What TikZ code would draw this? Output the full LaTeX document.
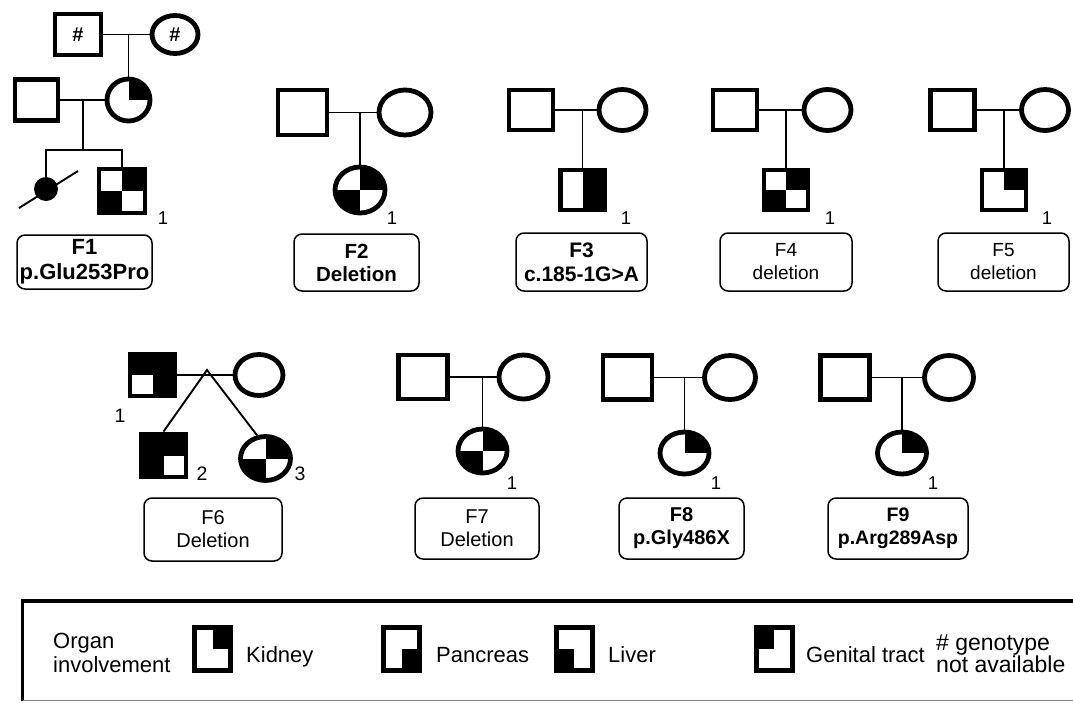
\documentclass[tikz,border=0pt]{standalone}
\usepackage{fontspec}
\setmainfont{Liberation Sans}
\usetikzlibrary{shapes.geometric}

\begin{document}
\begin{tikzpicture}
[
	x=1pt,y=-1pt,
	male/.style={rectangle,draw,line width=4.8,inner sep=0,minimum width=44,minimum height=40},
	female/.style={ellipse,draw,line width=4.8,inner sep=0,minimum width=47,minimum height=41},
	big/.style={minimum width=49,minimum height=44},
	dead/.style={circle,fill,inner sep=0,minimum size=24},
	organ/.style={path picture={\foreach \qd in {#1} {\fill (path picture bounding box.center) rectangle (path picture bounding box.\qd);}}},
	key/.style={rectangle,draw,line width=5,inner sep=0,minimum width=36,minimum height=43},
	ln/.style={line width=1.9},
	num/.style={inner sep=0,font=\fontsize{18.5}{18}\selectfont},
	fam/.style={rectangle,rounded corners=8,draw,line width=1.5,align=center,inner sep=0,minimum width=131,minimum height=58,font=\fontsize{19}{23}\selectfont},
	lgtxt/.style={inner sep=0,align=left,font=\fontsize{22}{24}\selectfont}
]

\useasboundingbox (0,0) rectangle (1073,702);

% F1
\node[male,minimum width=46,minimum height=41] (gf1) at (78,34.5) {\fontsize{20}{20}\selectfont\bfseries\#};
\node[female,minimum width=46,minimum height=38] (gm1) at (175,34.5) {\fontsize{20}{20}\selectfont\bfseries\#};
\node[male,minimum width=43,minimum height=41] (fa1) at (36.5,100) {};
\node[female,minimum width=43,minimum height=42,organ={north east}] (mo1) at (128.5,100) {};
\node[dead] (da1) at (46,189) {};
\node[male,minimum width=46,minimum height=44,organ={north east,south west}] (so1) at (122,191) {};
\coordinate (m1) at (83,100);
\coordinate (s1) at (83,150);
\node[num] (n1) at (163,218) {1};

\draw[ln]	(gf1.east)	--	(gm1.west);
\draw[ln]	(mo1.north)	--	(mo1.north |- gf1.east);
\draw[ln]	(fa1.east)	--	(mo1.west);
\draw[ln]	(m1)		--	(s1);
\draw[ln]	(da1.north)	|-	(s1) -| (so1.north);
\draw[ln]	([shift={(-27,19)}]da1.center) -- ([shift={(32,-18)}]da1.center);

% F2 - F5
\node[male,minimum width=49,minimum height=45] (fa2) at (302.5,112.5) {};
\node[female,minimum width=52,minimum height=45] (mo2) at (405,112.5) {};
\node[female,minimum width=50,minimum height=46,organ={north east,south west}] (ch2) at (360,190) {};
\node[num] (n2) at (392,218) {1};

\node[male] (fa3) at (531,110) {};
\node[female] (mo3) at (622.5,110) {};
\node[male,organ={north east,south east}] (ch3) at (582.5,190) {};
\node[num] (n3) at (626,218) {1};

\node[male] (fa4) at (735,110) {};
\node[female] (mo4) at (827.5,110) {};
\node[male,organ={north east,south west}] (ch4) at (786,190) {};
\node[num] (n4) at (830,218) {1};

\node[male] (fa5) at (952.5,110) {};
\node[female] (mo5) at (1045,110) {};
\node[male,organ={north east}] (ch5) at (1004,190) {};
\node[num] (n5) at (1047,218) {1};

\draw[ln]	(fa2.east)	--	(mo2.west);
\draw[ln]	(ch2.north)	--	(ch2.north |- fa2.east);
\draw[ln]	(fa3.east)	--	(mo3.west);
\draw[ln]	(ch3.north)	--	(ch3.north |- fa3.east);
\draw[ln]	(fa4.east)	--	(mo4.west);
\draw[ln]	(ch4.north)	--	(ch4.north |- fa4.east);
\draw[ln]	(fa5.east)	--	(mo5.west);
\draw[ln]	(ch5.north)	--	(ch5.north |- fa5.east);

\node[fam,minimum width=135,minimum height=54,font=\bfseries\fontsize{22}{25}\selectfont] (b1) at (84.5,262) {F1\\p.Glu253Pro};
\node[fam,minimum width=125,minimum height=57,font=\bfseries\fontsize{20.5}{23}\selectfont] (b2) at (356.5,262.5) {F2\\Deletion};
\node[fam,font=\bfseries\fontsize{21}{24}\selectfont] (b3) at (581.5,262) {F3\\c.185-1G>A};
\node[fam,minimum width=132] (b4) at (786,262) {F4\\deletion};
\node[fam] (b5) at (1003.5,262) {F5\\deletion};

% F6 - F9
\node[male,minimum width=45,minimum height=42,organ={north east,south east,north west}] (fa6) at (152.5,375) {};
\node[female,minimum width=48,minimum height=41] (mo6) at (259,375) {};
\node[male,minimum width=45,minimum height=43,organ={north east,south west,north west}] (so6) at (163.5,455.5) {};
\node[female,big,minimum width=50,organ={north east,south west}] (da6) at (265.5,458.5) {};
\coordinate (tw6) at (207,370);
\node[num,font=\fontsize{19.5}{19}\selectfont] (n6a) at (120,416) {1};
\node[num,font=\fontsize{19.5}{19}\selectfont] (n6b) at (202,474) {2};
\node[num,font=\fontsize{19.5}{19}\selectfont] (n6c) at (300,474) {3};

\node[male,big] (fa7) at (423,377) {};
\node[female,big] (mo7) at (523.5,377) {};
\node[female,big,organ={north east,south west}] (da7) at (482.5,451) {};
\node[num] (n7) at (512,483) {1};

\node[male,big] (fa8) at (627.5,377.5) {};
\node[female,big,minimum width=51] (mo8) at (730,377.5) {};
\node[female,big,minimum height=42,organ={north east}] (da8) at (684.5,453) {};
\node[num] (n8) at (716,483) {1};

\node[male,big] (fa9) at (845,377.5) {};
\node[female,big] (mo9) at (949,377.5) {};
\node[female,big,minimum height=42,organ={north east}] (da9) at (902,453) {};
\node[num] (n9) at (933,483) {1};

\draw[ln]	(fa6.east)	--	(mo6.west);
\draw[ln]	(so6.north)	--	(tw6) -- (da6.110);
\draw[ln]	(fa7.east)	--	(mo7.west);
\draw[ln]	(da7.north)	--	(da7.north |- fa7.east);
\draw[ln]	(fa8.east)	--	(mo8.west);
\draw[ln]	(da8.north)	--	(da8.north |- fa8.east);
\draw[ln]	(fa9.east)	--	(mo9.west);
\draw[ln]	(da9.north)	--	(da9.north |- fa9.east);

\node[fam,minimum width=138,minimum height=63,font=\fontsize{20}{23}\selectfont] (b6) at (213,529.5) {F6\\Deletion};
\node[fam,minimum width=124,minimum height=61,font=\fontsize{20}{23}\selectfont] (b7) at (477,528.5) {F7\\Deletion};
\node[fam,minimum width=125,minimum height=61,font=\bfseries\fontsize{20}{23}\selectfont] (b8) at (681.5,528.5) {F8\\p.Gly486X};
\node[fam,minimum width=140,minimum height=61,font=\bfseries\fontsize{19.5}{23}\selectfont] (b9) at (898,528.5) {F9\\p.Arg289Asp};

% legend
\draw[line width=3.3] (1075,601) -- (22.5,601) -- (22.5,700.5);
\draw[gray,line width=1.5] (22.5,700.5) -- (1075,700.5);

\node[lgtxt,anchor=west] (org) at (53,653) {Organ\\involvement};
\node[key,organ={north east}] (kk) at (212.5,649) {};
\node[lgtxt,anchor=base west] (kt) at (246,662) {Kidney};
\node[key,organ={south east}] (kp) at (401.5,649) {};
\node[lgtxt,anchor=base west] (pt) at (436,662) {Pancreas};
\node[key,organ={south west}] (kl) at (574,649) {};
\node[lgtxt,anchor=base west] (lt) at (608,662) {Liver};
\node[key,organ={north west}] (kg) at (774,649) {};
\node[lgtxt,anchor=base west] (gt) at (806,662) {Genital tract};
\node[lgtxt,anchor=west,font=\fontsize{23}{22}\selectfont] (na) at (936,654) {\# genotype\\not available};

\end{tikzpicture}
\end{document}
